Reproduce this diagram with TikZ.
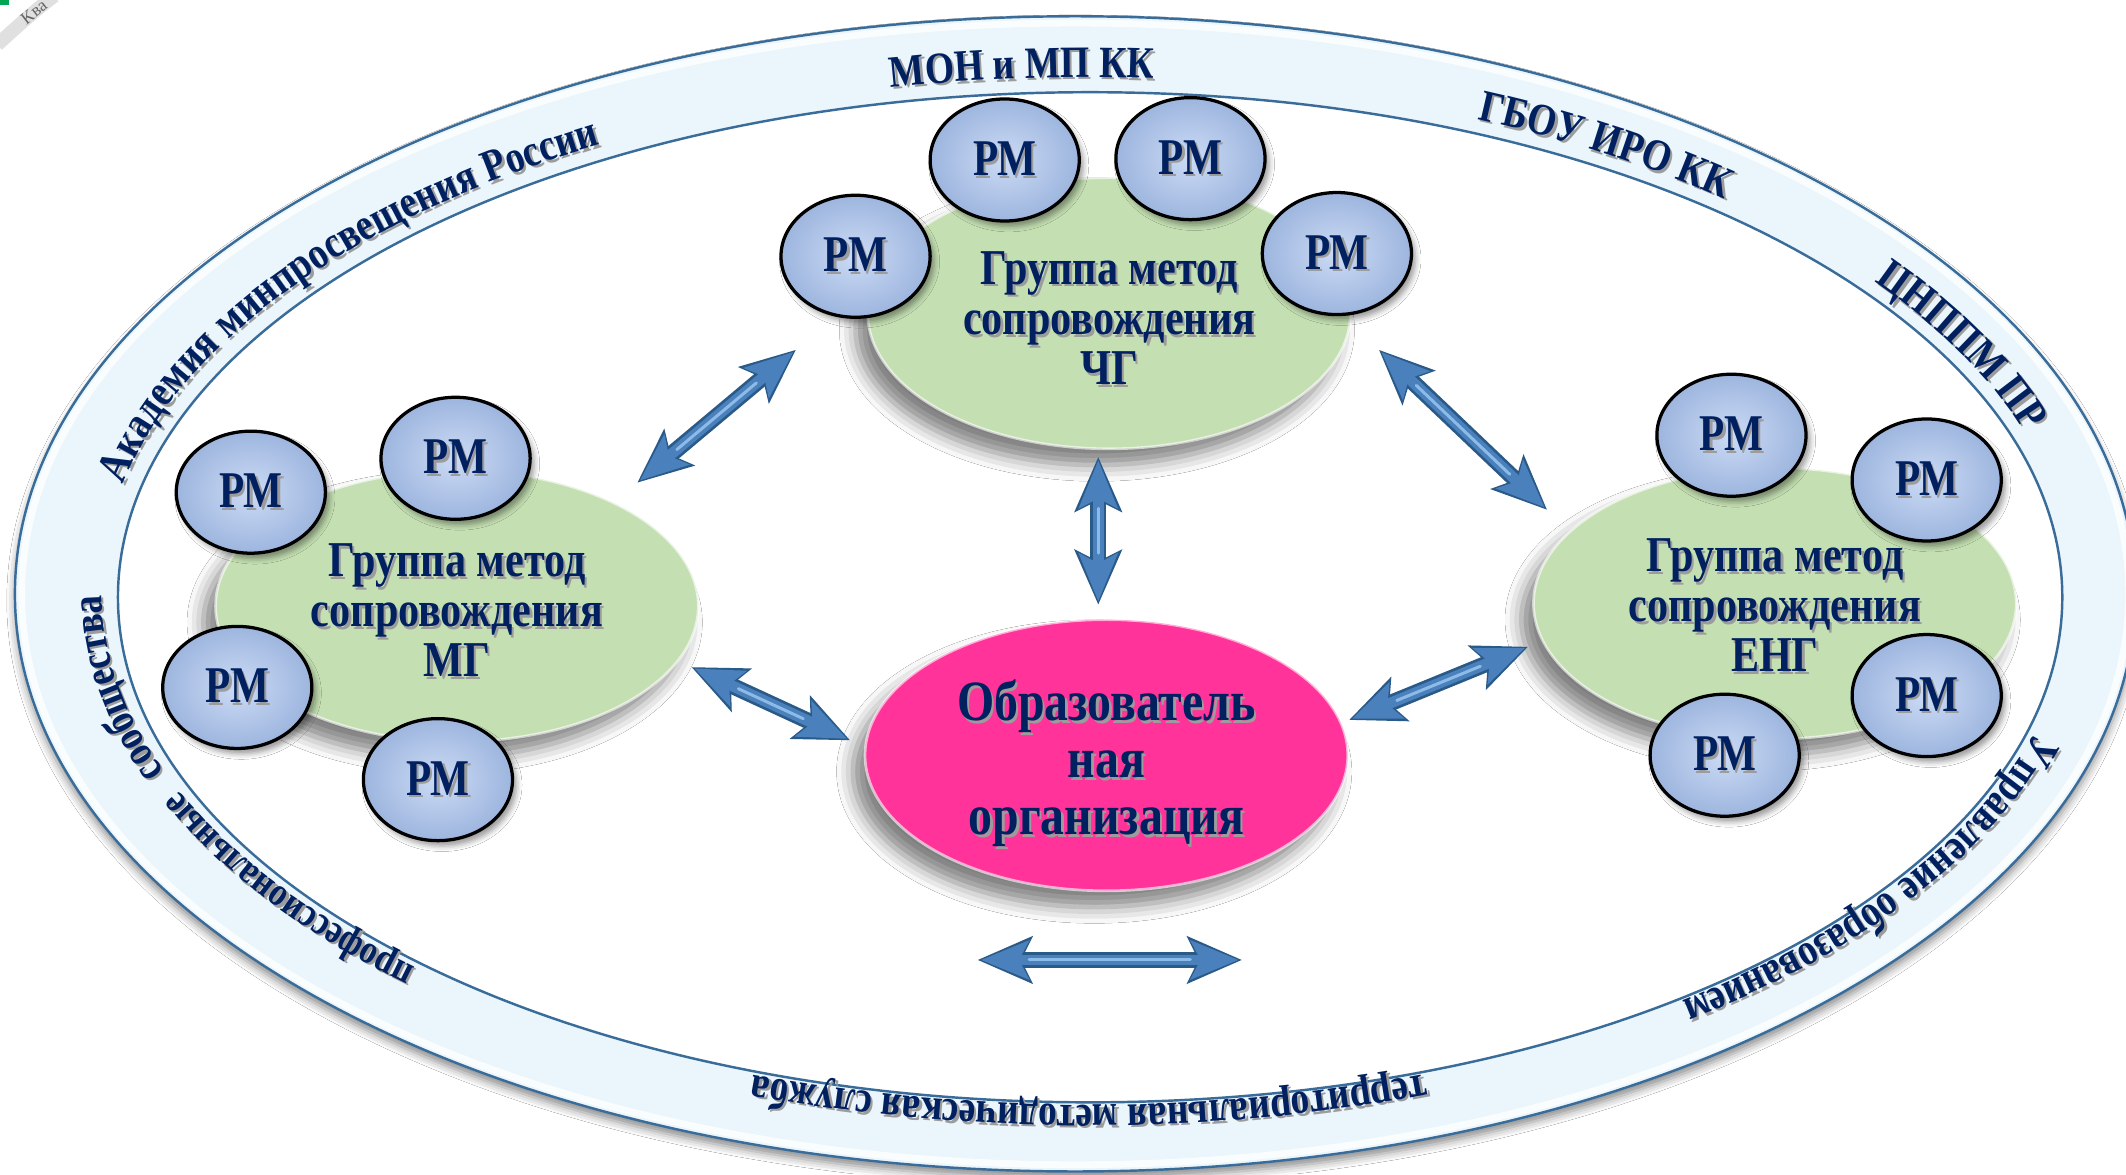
\documentclass[tikz,border=0pt]{standalone}
\usepackage{fontspec}
\setmainfont{Liberation Serif}
\newfontfamily\cfont{Liberation Serif}[FakeStretch=0.84]
\newfontfamily\mfont{Liberation Serif}[FakeStretch=0.8]
\usetikzlibrary{shapes.geometric,arrows.meta,decorations.text,shadows.blur}
\definecolor{navy}{HTML}{002060}
\definecolor{ringfill}{HTML}{EAF5FC}
\definecolor{ringline}{HTML}{3A6C9A}
\definecolor{grpc}{HTML}{C4DFB2}
\definecolor{pinkc}{HTML}{FF3399}
\definecolor{rmin}{HTML}{CCDBF5}
\definecolor{rmout}{HTML}{9DB5DE}
\definecolor{arrdark}{HTML}{2A5A88}
\definecolor{arrmid}{HTML}{4A80BB}
\definecolor{arrlight}{HTML}{8DBBE8}
\definecolor{txtshadow}{HTML}{9C9C9C}
\definecolor{artgreen}{HTML}{00A651}
\newcommand\shd[1]{\leavevmode\rlap{\kern1.8bp\raisebox{-2bp}{\textcolor{txtshadow}{#1}}}#1}
\newcommand\grpfont{\cfont\fontsize{37bp}{37bp}\selectfont\bfseries}
\newcommand\orgfont{\cfont\fontsize{42bp}{42bp}\selectfont\bfseries}
\newcommand\rmfont{\mfont\fontsize{38bp}{38bp}\selectfont\bfseries}
\newcommand\ringfont{\cfont\fontsize{33bp}{33bp}\selectfont\bfseries}
\newcommand\ringfontb{\cfont\fontsize{30bp}{30bp}\selectfont\bfseries}
\newcommand\ringfontc{\cfont\fontsize{32bp}{32bp}\selectfont\bfseries}
\newcommand\ringlabel[4][\ringfont]{%
  \path[ringtext={txtshadow}{|#1|#4}, shift={(1.8,1.8)}] (802,436) ++(#2:727 and 379)
    arc[start angle=#2, end angle=#3, x radius=727, y radius=379];
  \path[ringtext={navy}{|#1|#4}] (802,436) ++(#2:727 and 379)
    arc[start angle=#2, end angle=#3, x radius=727, y radius=379];}
\newcommand\barrow[2]{%
  \draw[arrdark, line width=12bp, {Stealth[length=40bp,width=34bp,inset=8bp]}-{Stealth[length=40bp,width=34bp,inset=8bp]}] (#1) -- (#2);
  \draw[arrmid, line width=8bp, shorten <=2.5bp, shorten >=2.5bp, {Stealth[length=35bp,width=28bp,inset=7bp]}-{Stealth[length=35bp,width=28bp,inset=7bp]}] (#1) -- (#2);
  \draw[arrlight, line width=2.2bp, line cap=round, shorten <=38bp, shorten >=38bp] (#1) -- (#2);}
\begin{document}
\begin{tikzpicture}[x=1bp, y=-1bp,
  grp/.style={ellipse, fill=grpc, draw=white, draw opacity=0.6, line width=2bp,
    minimum width=356bp, minimum height=200bp, inner sep=0pt,
    blur shadow={shadow xshift=-9bp, shadow yshift=-12bp, shadow blur radius=12bp, shadow opacity=50}},
  grptext/.style={align=center, text=navy, font=\grpfont, inner sep=0pt},
  org/.style={grp, fill=pinkc},
  orgtext/.style={grptext, font=\orgfont},
  rm/.style={ellipse, minimum width=110bp, minimum height=90bp, inner sep=0pt,
    draw=black, line width=2.4bp, inner color=rmin, outer color=rmout,
    text=navy, font=\rmfont,
    blur shadow={shadow xshift=3bp, shadow yshift=-4bp, shadow blur radius=4bp, shadow opacity=40}},
  ringtext/.style 2 args={decorate, decoration={text along path, text align=left, text color=#1, text={#2}}}]
\useasboundingbox (0,0) rectangle (1568,866);
\fill[white] (0,0) rectangle (1568,866);
% stray fragment at the top left corner
\draw[black!12, line width=10bp] (-2,33) .. controls (10,22) and (24,9) .. (40,-3);
\node[rotate=38, text=black!60, font=\fontsize{13bp}{13bp}\selectfont, inner sep=0pt] (kva) at (25,9) {Ква};
\fill[artgreen] (0,0) rectangle (7,4);
% outer ring
\fill[ringfill, blur shadow={shadow xshift=0bp, shadow yshift=-5bp, shadow blur radius=6bp, shadow opacity=45}] (793,438) ellipse [x radius=782, y radius=426];
\draw[white, line width=5bp, opacity=0.8] (793,438) ellipse [x radius=777, y radius=421];
\fill[white] (804,440.5) ellipse [x radius=717, y radius=372.5];
\draw[ringline, line width=1.8bp] (793,438) ellipse [x radius=782, y radius=426];
\draw[ringline, line width=1.8bp] (804,440.5) ellipse [x radius=717, y radius=372.5];
% ring labels
\ringlabel{-168}{-105}{Академия минпросвещения России}
\ringlabel{-101.5}{-75}{МОН и МП КК}
\ringlabel{-66.7}{-40}{ГБОУ ИРО КК}
\ringlabel{-37}{-5}{ЦНППМ ПР}
\ringlabel{16}{65}{Управление образованием}
\ringlabel{70}{120}{территориальная методическая служба}
\ringlabel[\ringfontb]{133}{162}{профессиональные}
\ringlabel[\ringfontc]{159.5}{195}{сообщества}
% groups
\node[grp] (gch) at (818,231) {};
\node[grp] (gmg) at (337,447) {};
\node[grp] (geng) at (1309,445) {};
\node[grptext] (gchT) at ([yshift=-4.5bp]gch.center) {\shd{Группа метод}\\\shd{сопровождения}\\\shd{ЧГ}};
\node[grptext] (gmgT) at ([yshift=-4bp]gmg.center) {\shd{Группа метод}\\\shd{сопровождения}\\\shd{МГ}};
\node[grptext] (gengT) at ([yshift=-2.5bp]geng.center) {\shd{Группа метод}\\\shd{сопровождения}\\\shd{ЕНГ}};
% RM circles
\node[rm] (t1) at (631,189) {\shd{РМ}};
\node[rm] (t2) at (741,118) {\shd{РМ}};
\node[rm] (t3) at (878,117) {\shd{РМ}};
\node[rm] (t4) at (986,187) {\shd{РМ}};
\node[rm] (l1) at (185,363) {\shd{РМ}};
\node[rm] (l2) at (336,338) {\shd{РМ}};
\node[rm] (l3) at (175,507) {\shd{РМ}};
\node[rm] (l4) at (323,575) {\shd{РМ}};
\node[rm] (r1) at (1277,321) {\shd{РМ}};
\node[rm] (r2) at (1421,354) {\shd{РМ}};
\node[rm] (r3) at (1421,513) {\shd{РМ}};
\node[rm] (r4) at (1272,557) {\shd{РМ}};
% organisation
\node[org] (org) at (816,557) {};
\node[orgtext] (orgT) at ([yshift=-7bp]org.center) {\shd{Образователь}\\\shd{ная}\\\shd{организация}};
% arrows
\coordinate (a1s) at (470,356); \coordinate (a1e) at (587,258);
\coordinate (a2s) at (1017,258); \coordinate (a2e) at (1141,376);
\coordinate (a3s) at (810,337); \coordinate (a3e) at (810,446);
\coordinate (a4s) at (510,492); \coordinate (a4e) at (627,546);
\coordinate (a5s) at (995,531); \coordinate (a5e) at (1127,477);
\coordinate (a6s) at (721,708); \coordinate (a6e) at (916,708);
\barrow{a1s}{a1e}
\barrow{a2s}{a2e}
\barrow{a3s}{a3e}
\barrow{a4s}{a4e}
\barrow{a5s}{a5e}
\barrow{a6s}{a6e}
\end{tikzpicture}
\end{document}
